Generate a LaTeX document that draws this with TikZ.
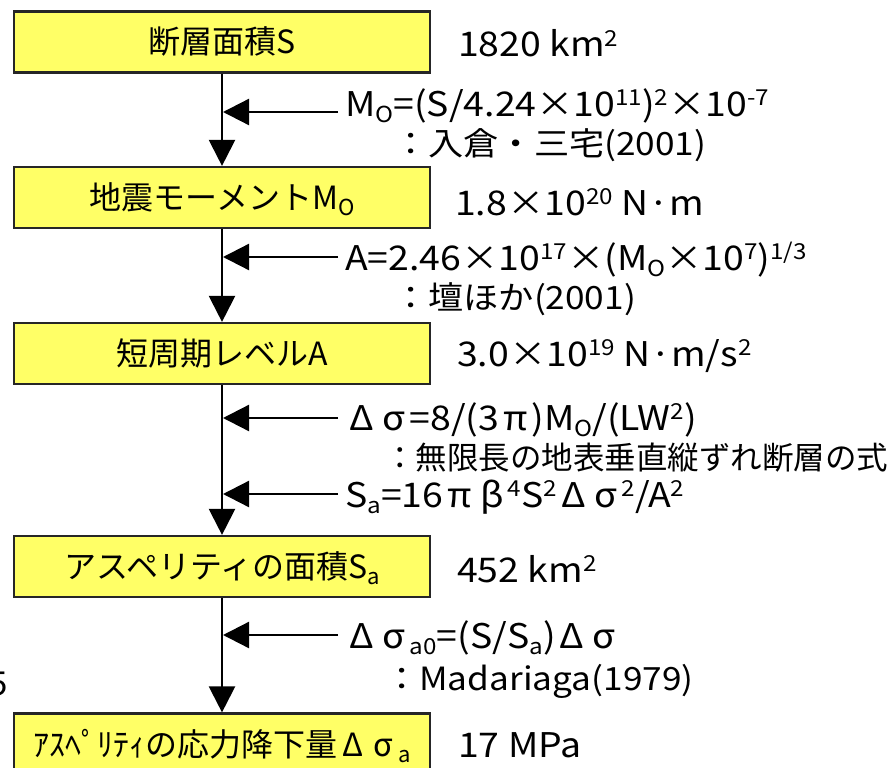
\documentclass[tikz,border=0pt]{standalone}
\usepackage{fontspec}
\setmainfont{Noto Sans CJK JP}
\newfontfamily\wideface[FakeStretch=1.1]{Noto Sans CJK JP}
\usetikzlibrary{arrows.meta}
\definecolor{boxyellow}{HTML}{FFFF66}
\newcommand\upx[1]{\raisebox{0.30em}{\fontsize{22}{22}\selectfont #1}}
\newcommand\dnx[1]{\raisebox{-0.2em}{\fontsize{22}{22}\selectfont #1}}
\newcommand\fg[1]{\makebox[0.95em]{#1}}
\begin{document}
\begin{tikzpicture}[x=1pt,y=-1pt,
  stepbox/.style={draw=black!85, line width=2.2pt, fill=boxyellow,
    minimum width=416pt, minimum height=61pt, inner sep=0pt,
    text height=28pt, text depth=4pt,
    font=\fontsize{32}{34}\selectfont},
  flow/.style={-{Triangle[length=26pt,width=26pt]}, line width=2.3pt},
  val/.style={anchor=base west, inner sep=0pt, font=\wideface\fontsize{34}{36}\selectfont},
  lab/.style={anchor=base west, inner sep=0pt, font=\wideface\fontsize{34}{36}\selectfont},
  note/.style={anchor=base west, inner sep=0pt, font=\wideface\fontsize{32}{36}\selectfont}]
\useasboundingbox (0,0) rectangle (894,768);
% boxes
\node[stepbox] (b1) at (222,42) {断層面積S};
\node[stepbox] (b2) at (222,197.5) {地震モーメントM\dnx{O}};
\node[stepbox] (b3) at (222,353.5) {短周期レベルA};
\node[stepbox] (b4) at (222,566.5) {アスペリティの面積S\dnx{a}};
\node[stepbox] (b5) at (222,744) {ｱｽﾍﾟﾘﾃｨの応力降下量\fg{Δ}\fg{σ}\dnx{a}};
% values
\node[val] (v1) at (458,57) {1820 km\upx{2}};
\node[val] (v2) at (455,215) {1.8×10\upx{20} N·m};
\node[val] (v3) at (457,366) {3.0×10\upx{19} N·m/s\upx{2}};
\node[val] (v4) at (457,582) {452 km\upx{2}};
\node[val] (v5) at (458,757) {17 MPa};
% main flow
\draw[flow] (b1) -- (b2);
\draw[flow] (b2) -- (b3);
\draw[flow] (b3) -- (b4);
\draw[flow] (b4) -- (b5);
% side inputs
\coordinate (s1) at (338,112); \coordinate (t1) at (223,112);
\coordinate (s2) at (338,257); \coordinate (t2) at (223,257);
\coordinate (s3) at (338,418); \coordinate (t3) at (223,418);
\coordinate (s4) at (338,494); \coordinate (t4) at (223,494);
\coordinate (s5) at (338,635); \coordinate (t5) at (223,635);
\foreach \i in {1,...,5} {\draw[flow] (s\i) -- (t\i);}
% formulas
\node[lab] (f1) at (345,116) {M\dnx{O}=(S/4.24×10\upx{11})\upx{2}×10\upx{-7}};
\node[note] (r1) at (393,155) {：入倉・三宅(2001)};
\node[lab] (f2) at (345,270) {A=2.46×10\upx{17}×(M\dnx{O}×10\upx{7})\upx{1/3}};
\node[note] (r2) at (393,309) {：壇ほか(2001)};
\node[lab] (f3) at (345,430) {\fg{Δ}\fg{σ}=8/(3\fg{π})M\dnx{O}/(LW\upx{2})};
\node[anchor=base west, inner sep=0pt, font=\fontsize{31.5}{34}\selectfont] (r3) at (384,469) {：無限長の地表垂直縦ずれ断層の式};
\node[lab] (f4) at (345,507) {S\dnx{a}=16\fg{π}\fg{β}\upx{4}S\upx{2}\fg{Δ}\fg{σ}\upx{2}/A\upx{2}};
\node[lab] (f5) at (345,648) {\fg{Δ}\fg{σ}\dnx{a0}=(S/S\dnx{a})\fg{Δ}\fg{σ}};
\node[note] (r5) at (384,690) {：Madariaga(1979)};
% stray glyph at left edge
\begin{scope}
\clip (0,0) rectangle (894,768);
\node[anchor=base east, inner sep=0pt, font=\fontsize{33}{36}\selectfont] (stray) at (8,695) {5};
\end{scope}
\end{tikzpicture}
\end{document}
